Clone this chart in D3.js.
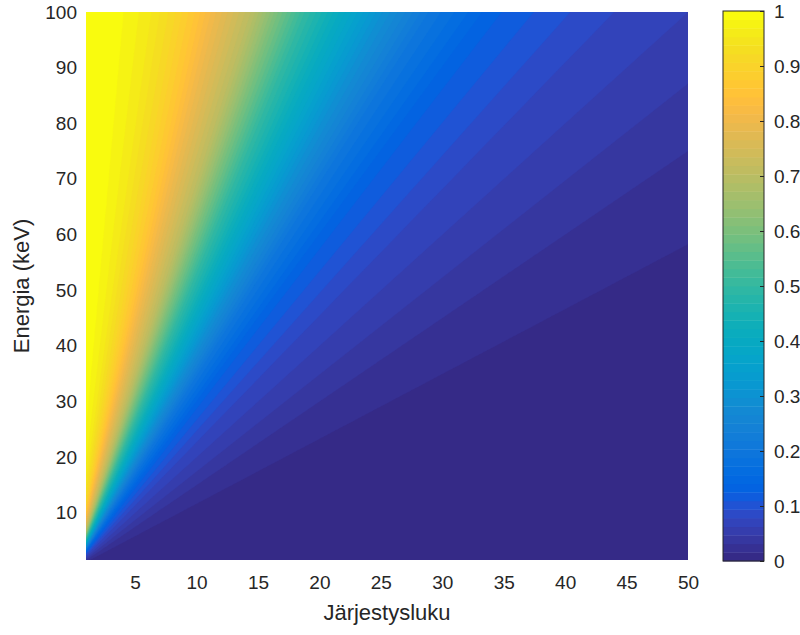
<!DOCTYPE html>
<html>
<head>
<meta charset="utf-8">
<script src="https://cdn.jsdelivr.net/npm/d3@7"></script>
<style>
  body { margin: 0; background: #ffffff; }
  text { font-family: "Liberation Sans", Arial, Helvetica, sans-serif; fill: #262626; }
</style>
</head>
<body>
<svg id="chart" width="800" height="635"></svg>
<script>
// Shaded share as a function of the ratio Z / E (atomic number per keV);
// iso-lines of the map are rays through the origin.
const ratioZE = [0, 0.02, 0.04, 0.06, 0.08, 0.10, 0.115, 0.13, 0.145, 0.165,
                 0.188, 0.218, 0.25, 0.29, 0.34, 0.39, 0.44, 0.50, 0.573, 0.668,
                 0.858, 1.0, 1.25, 1.5, 2, 5, 50];
const share   = [1, 0.997, 0.985, 0.96, 0.915, 0.855, 0.80, 0.75, 0.70, 0.60,
                 0.50, 0.40, 0.30, 0.20, 0.13, 0.10, 0.078, 0.0625, 0.047, 0.031,
                 0.0156, 0.0105, 0.0058, 0.0036, 0.0016, 0.0001, 0];

const zDomain = [1, 50];
const eDomain = [1.5, 100];
const zTicks = [5, 10, 15, 20, 25, 30, 35, 40, 45, 50];
const eTicks = [10, 20, 30, 40, 50, 60, 70, 80, 90, 100];
const barTicks = [0, 0.1, 0.2, 0.3, 0.4, 0.5, 0.6, 0.7, 0.8, 0.9, 1];

// parula, 64 entries
const parula = [
  "#352a87","#363093","#3637a0","#353dad","#3243ba","#2c4ac7","#2053d4","#0f5cdd",
  "#0363e1","#0268e1","#046de0","#0871de","#0d75dc","#1079da","#127dd8","#1481d6",
  "#1485d4","#1389d3","#108ed2","#0c93d2","#0998d1","#079ccf","#06a0cd","#06a4ca",
  "#06a7c6","#07a9c2","#0aacbe","#0faeb9","#15b1b4","#1db3af","#25b5a9","#2eb7a4",
  "#38b99e","#42bb98","#4dbc92","#59bd8c","#65be86","#71bf80","#7cbf7b","#87bf77",
  "#92bf73","#9cbf6f","#a5be6b","#aebe67","#b7bd64","#c0bc60","#c8bc5d","#d1bb59",
  "#d9ba56","#e1b952","#e9b94e","#f1b94a","#f8bb44","#fdbe3d","#ffc337","#fec832",
  "#fcce2e","#fad32a","#f7d826","#f5de21","#f5e41d","#f5eb18","#f6f313","#f9fb0e"
];

const svg = d3.select("#chart");
const plot = { left: 86, right: 688, top: 12, bottom: 560 };
const bar = { left: 723, right: 764, top: 11, bottom: 561 };

const x = d3.scaleLinear().domain(zDomain).range([plot.left, plot.right]);
const y = d3.scaleLinear().domain(eDomain).range([plot.bottom, plot.top]);
const shareOf = d3.scaleLinear().domain(ratioZE).range(share).clamp(true);

// ---- filled map: 64 colour levels as contour bands ----
const step = 2;
const nx = Math.ceil((plot.right - plot.left) / step) + 1;
const ny = Math.ceil((plot.bottom - plot.top) / step) + 1;
const grid = new Float64Array(nx * ny);
for (let j = 0; j < ny; j++) {
  const E = y.invert(Math.min(plot.top + j * step, plot.bottom));
  for (let i = 0; i < nx; i++) {
    const Z = x.invert(Math.min(plot.left + i * step, plot.right));
    grid[j * nx + i] = shareOf(Z / E);
  }
}
const levels = d3.range(1, 64).map(k => k / 64);
const bands = d3.contours().size([nx, ny]).thresholds(levels)(grid);
const toPixels = d3.geoPath(
  d3.geoIdentity().scale(step).translate([plot.left - step / 2, plot.top - step / 2])
);
const bandColor = d => parula[Math.min(63, Math.round(d.value * 64))];

svg.append("defs").append("clipPath").attr("id", "plotClip")
  .append("rect")
  .attr("x", plot.left).attr("y", plot.top)
  .attr("width", plot.right - plot.left).attr("height", plot.bottom - plot.top);

const map = svg.append("g").attr("clip-path", "url(#plotClip)");
map.append("rect")
  .attr("x", plot.left).attr("y", plot.top)
  .attr("width", plot.right - plot.left).attr("height", plot.bottom - plot.top)
  .attr("fill", parula[0]);
map.selectAll("path.band")
  .data(bands)
  .join("path")
  .attr("class", "band")
  .attr("d", toPixels)
  .attr("fill", bandColor)
  .attr("stroke", bandColor)
  .attr("stroke-width", 0.3);

// ---- axes ----
const xAxis = svg.append("g")
  .attr("transform", `translate(0,${plot.bottom})`)
  .call(d3.axisBottom(x).tickValues(zTicks).tickSize(0).tickPadding(16));
xAxis.select(".domain").remove();
xAxis.selectAll("text").style("font-size", "19px").attr("fill", "#262626");

const yAxis = svg.append("g")
  .attr("transform", `translate(${plot.left},0)`)
  .call(d3.axisLeft(y).tickValues(eTicks).tickSize(0).tickPadding(9));
yAxis.select(".domain").remove();
yAxis.selectAll("text").style("font-size", "19px").attr("fill", "#262626");

svg.append("text")
  .attr("x", (plot.left + plot.right) / 2).attr("y", 620)
  .attr("text-anchor", "middle")
  .style("font-size", "22px")
  .text("Järjestysluku");

svg.append("text")
  .attr("transform", `translate(29,${(plot.top + plot.bottom) / 2}) rotate(-90)`)
  .attr("text-anchor", "middle")
  .style("font-size", "22px")
  .text("Energia (keV)");

// ---- colour bar ----
const c = d3.scaleLinear().domain([0, 1]).range([bar.bottom, bar.top]);
const cbar = svg.append("g");
cbar.selectAll("rect.swatch")
  .data(parula)
  .join("rect")
  .attr("class", "swatch")
  .attr("x", bar.left)
  .attr("width", bar.right - bar.left)
  .attr("y", (d, k) => c((k + 1) / 64))
  .attr("height", (d, k) => c(k / 64) - c((k + 1) / 64) + 0.4)
  .attr("fill", d => d);
cbar.append("rect")
  .attr("x", bar.left).attr("y", bar.top)
  .attr("width", bar.right - bar.left).attr("height", bar.bottom - bar.top)
  .attr("fill", "none").attr("stroke", "#262626").attr("stroke-width", 1);

const cAxis = svg.append("g")
  .attr("transform", `translate(${bar.right},0)`)
  .call(d3.axisRight(c).tickValues(barTicks).tickFormat(d3.format("~g"))
    .tickSizeInner(-4).tickSizeOuter(0).tickPadding(10));
cAxis.select(".domain").remove();
cAxis.selectAll("line").attr("stroke", "#262626");
cAxis.selectAll("text").style("font-size", "19px").attr("fill", "#262626");
</script>
</body>
</html>
